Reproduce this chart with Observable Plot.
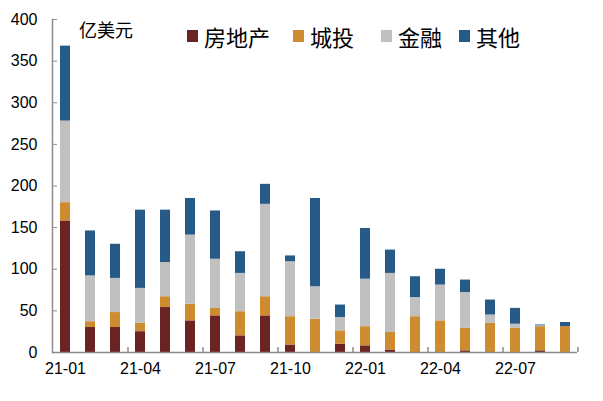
<!DOCTYPE html>
<html>
<head>
<meta charset="utf-8">
<script src="https://cdn.jsdelivr.net/npm/d3@7"></script>
<script src="https://cdn.jsdelivr.net/npm/@observablehq/plot@0.6"></script>
<style>
  body { margin: 0; background: #fff; }
  #wrap { position: relative; width: 603px; height: 401px; }
  #unit { position: absolute; left: 79px; top: 20px; font-family: "Noto Sans CJK SC", sans-serif; font-size: 18px; line-height: 18px; color: #000; }
  .lg-item { position: absolute; top: 25px; display: flex; align-items: center; font-family: "Noto Sans CJK SC", sans-serif; font-size: 22px; line-height: 22px; color: #000; white-space: nowrap; }
  .lg-sw { width: 11px; height: 12px; margin-right: 6px; }
</style>
</head>
<body>
<div id="wrap"><div id="chart"></div><div id="unit">亿美元</div></div>
<script>
const months = ["21-01","21-02","21-03","21-04","21-05","21-06","21-07","21-08","21-09","21-10","21-11","21-12",
                "22-01","22-02","22-03","22-04","22-05","22-06","22-07","22-08","22-09"];
const seriesNames = ["房地产", "城投", "金融", "其他"];
const realEstate = [158, 30, 30, 25, 54, 38, 44, 20, 44,  9,   0, 10,  8,  3,  0,  0,  2,  0,  0,  2,  0];
const lgfv       = [ 22,  7, 18, 10, 13, 20,  9, 29, 23, 34,  40, 16, 23, 21, 43, 38, 27, 35, 29, 29, 31];
const finance    = [ 98, 55, 41, 42, 41, 83, 59, 46, 111, 66, 39, 16, 57, 71, 23, 43, 43, 10,  5,  1,  0];
const other      = [ 90, 54, 41, 94, 63, 44, 58, 26, 24,  7, 106, 15, 61, 28, 25, 19, 15, 18, 19,  1,  5];
const colors = ["#6b2323", "#cf8b2f", "#c0c0c0", "#255b86"];
const yTicks = [0, 50, 100, 150, 200, 250, 300, 350, 400];
const xLabelMonths = ["21-01","21-04","21-07","21-10","22-01","22-04","22-07"];
const boundaryMonths = ["21-04","21-07","21-10","22-01","22-04","22-07"];

const seriesValues = [realEstate, lgfv, finance, other];
const data = [];
seriesNames.forEach((s, si) => {
  months.forEach((m, i) => data.push({month: m, series: s, value: seriesValues[si][i]}));
});

const W = 603, H = 401, mL = 52, mR = 26, mT = 19, mB = 49;
const padIn = 0.6, padOut = 0.3;
const step = (W - mL - mR) / (months.length - padIn + 2 * padOut);
const axisColor = "#8c8c8c";

const chart = Plot.plot({
  width: W, height: H,
  marginLeft: mL, marginRight: mR, marginTop: mT, marginBottom: mB,
  style: {fontFamily: "'Liberation Sans', Arial, sans-serif", fontSize: "16px", color: "#000", background: "#fff"},
  x: {type: "band", domain: months, paddingInner: padIn, paddingOuter: padOut, axis: null},
  y: {domain: [0, 400], axis: null},
  color: {domain: seriesNames, range: colors},
  marks: [
    Plot.barY(data, {x: "month", y: "value", fill: "series", order: null}),
    Plot.ruleY([0], {stroke: axisColor, strokeWidth: 1.5}),
    Plot.frame({anchor: "left", stroke: axisColor, strokeWidth: 1.5}),
    Plot.ruleX(boundaryMonths, {x: d => d, y1: 0, y2: 6, dx: -step / 2, stroke: axisColor, strokeWidth: 1.5}),
    Plot.ruleX([months[months.length - 1]], {x: d => d, y1: 0, y2: 6, dx: step / 2, stroke: axisColor, strokeWidth: 1.5}),
    Plot.axisY({ticks: yTicks, tickSize: -5, tickPadding: 20, stroke: axisColor, fill: "#000", fontSize: 16, label: null}),
    Plot.axisX({ticks: xLabelMonths, tickSize: 0, tickPadding: 10, fill: "#000", fontSize: 16, label: null})
  ]
});
const wrap = document.getElementById("wrap");
document.getElementById("chart").appendChild(chart);

const legendX = [187, 293, 381, 459];
seriesNames.forEach((s, i) => {
  const item = document.createElement("div");
  item.className = "lg-item";
  item.style.left = legendX[i] + "px";
  const sw = document.createElement("span");
  sw.className = "lg-sw";
  sw.style.background = colors[i];
  const t = document.createElement("span");
  t.textContent = s;
  item.appendChild(sw);
  item.appendChild(t);
  wrap.appendChild(item);
});
</script>
</body>
</html>
